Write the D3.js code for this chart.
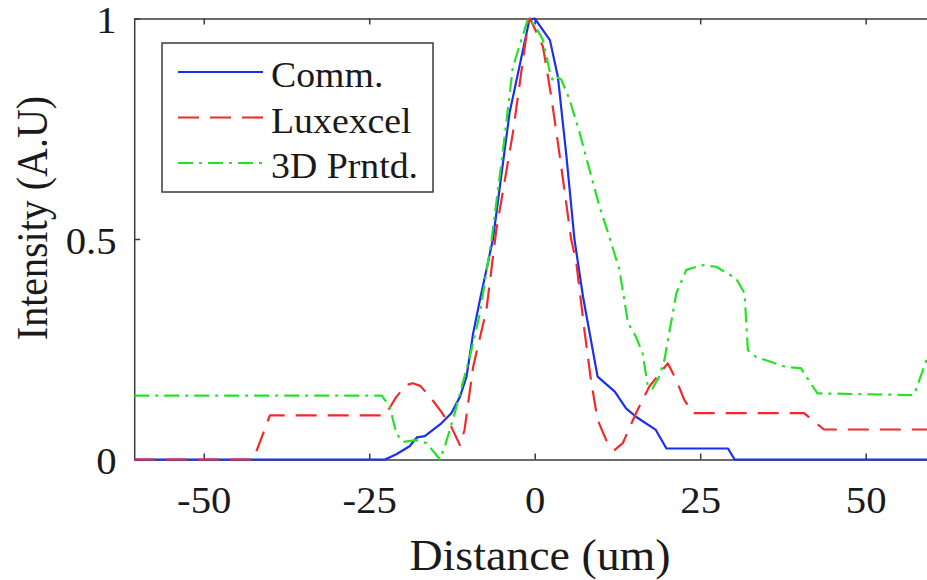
<!DOCTYPE html>
<html>
<head>
<meta charset="utf-8">
<script src="https://cdn.jsdelivr.net/npm/d3@7"></script>
<style>
  html, body { margin: 0; padding: 0; background: #fff; overflow: hidden; }
  svg { display: block; }
</style>
</head>
<body>
<svg id="chart" width="927" height="580"></svg>
<script>
// Intensity profiles across the focal spot for three lens types
const seriesNames = ["Comm.", "Luxexcel", "3D Prntd."];

const commDist = [-60.5, -22.6, -20.9, -18.9, -17.8, -16.6, -14.1, -12.6, -11.3, -10.3, -9.3, -8.3,
  -6.3, -3.8, -0.8, 0, 2.3, 3.5, 4.8, 6.0, 7.3, 9.5, 12.1, 13.8, 15.3, 18.3, 19.9, 20.9, 29.2, 30.2, 60.5];
const commInt = [0, 0, 0.012, 0.03, 0.05, 0.053, 0.082, 0.105, 0.142, 0.188, 0.286, 0.36,
  0.5, 0.786, 0.997, 1.0, 0.951, 0.868, 0.687, 0.5, 0.369, 0.188, 0.154, 0.116, 0.097, 0.067, 0.025, 0.025, 0.025, 0, 0];

const luxDist = [-60.5, -42.5, -40, -22.6, -20.9, -19.4, -18.4, -17.3, -15.8, -14.1, -12.6, -11.3,
  -10.6, -9.3, -7.3, -5.8, -3.3, -1.0, -0.7, 1.25, 2.5, 3.8, 5.5, 6.3, 7.5, 8.5, 9.5, 10.8, 12.1,
  13.3, 15.3, 17.3, 19.3, 20.1, 21.4, 22.6, 23.9, 40.7, 43.7, 60.5];
const luxInt = [0, 0, 0.10, 0.10, 0.142, 0.169, 0.173, 0.167, 0.142, 0.108, 0.074, 0.033,
  0.067, 0.21, 0.339, 0.52, 0.74, 0.989, 1.0, 0.936, 0.823, 0.687, 0.50, 0.445, 0.294, 0.18, 0.09, 0.044, 0.022,
  0.037, 0.105, 0.165, 0.203, 0.218, 0.18, 0.135, 0.105, 0.105, 0.068, 0.068];

const prnDist = [-60.5, -23.1, -21.9, -20.9, -19.9, -17.9, -16.3, -15.3, -14.3, -13.6, -12.3, -11.1,
  -9.8, -8.3, -6.5, -4.8, -3.3, -1.0, 0, 1.25, 2.3, 2.8, 3.5, 4.0, 5.3, 6.8, 8.3, 9.8, 11.1, 12.8,
  14.1, 15.3, 16.3, 17.1, 17.8, 18.8, 19.6, 20.4, 21.4, 22.9, 25.4, 27.4, 30.4, 31.7, 32.2, 33.4,
  37.9, 40.2, 42.7, 57.3, 59.1, 60.5];
const prnInt = [0.145, 0.145, 0.12, 0.059, 0.04, 0.044, 0.037, 0.018, 0, 0.029, 0.093, 0.161,
  0.233, 0.33, 0.50, 0.70, 0.89, 1.0, 0.985, 0.951, 0.878, 0.857, 0.866, 0.862, 0.815, 0.74, 0.656, 0.573, 0.513, 0.43,
  0.309, 0.278, 0.241, 0.165, 0.161, 0.188, 0.226, 0.294, 0.377, 0.43, 0.441, 0.437, 0.411, 0.377, 0.248, 0.233,
  0.21, 0.207, 0.15, 0.146, 0.222, 0.28];

const xTicks = [-50, -25, 0, 25, 50];
const yTicks = [0, 0.5, 1];
const yTickLabels = ["0", "0.5", "1"];

const svg = d3.select("#chart");
const plotLeft = 134.2, plotRight = 935.2, plotTop = 18.5, plotBottom = 459.5;
const axisColor = "#3a3a3a";
const textColor = "#1a1a1a";
const serif = '"Liberation Serif"';
const stretch = 1.1;

const x = d3.scaleLinear().domain([-60.5, 60.5]).range([plotLeft, plotRight]);
const y = d3.scaleLinear().domain([0, 1]).range([plotBottom, plotTop]);

function styleAxis(g) {
  g.attr("font-family", serif);
  g.select(".domain").attr("stroke", axisColor).attr("stroke-width", 1.5);
  g.selectAll(".tick line").attr("stroke", axisColor).attr("stroke-width", 1.5);
}

// bottom axis with labels
const gx = svg.append("g").attr("transform", `translate(0,${plotBottom})`)
  .call(d3.axisBottom(x).tickValues(xTicks).tickFormat(d => String(d))
    .tickSizeInner(-6).tickSizeOuter(0).tickPadding(27));
styleAxis(gx);
gx.selectAll(".tick text")
  .attr("font-family", serif).attr("font-size", 37).attr("fill", textColor)
  .attr("transform", `scale(${stretch},1)`);

// top axis, ticks only
const gt = svg.append("g").attr("transform", `translate(0,${plotTop})`)
  .call(d3.axisTop(x).tickValues(xTicks).tickFormat("").tickSizeInner(-6).tickSizeOuter(0));
styleAxis(gt);

// left axis with labels
const gy = svg.append("g").attr("transform", `translate(${plotLeft},0)`)
  .call(d3.axisLeft(y).tickValues(yTicks).tickFormat((d, i) => yTickLabels[i])
    .tickSizeInner(-6).tickSizeOuter(0).tickPadding(16));
styleAxis(gy);
gy.selectAll(".tick text")
  .attr("font-family", serif).attr("font-size", 37).attr("fill", textColor)
  .attr("dy", "0.38em")
  .attr("transform", `scale(${stretch},1)`);

// right axis, ticks only
const gr = svg.append("g").attr("transform", `translate(${plotRight},0)`)
  .call(d3.axisRight(y).tickValues(yTicks).tickFormat("").tickSizeInner(-6).tickSizeOuter(0));
styleAxis(gr);

// axis titles
svg.append("text")
  .attr("transform", `translate(540,570) scale(1.02,1)`)
  .attr("text-anchor", "middle").attr("font-family", serif)
  .attr("font-size", 45).attr("fill", textColor)
  .text("Distance (um)");

svg.append("text")
  .attr("transform", `translate(47,218) scale(${stretch},1) rotate(-90)`)
  .attr("text-anchor", "middle").attr("font-family", serif)
  .attr("font-size", 40).attr("fill", textColor)
  .text("Intensity (A.U)");

// plot clipping
svg.append("clipPath").attr("id", "plotClip")
  .append("rect").attr("x", plotLeft).attr("y", plotTop - 2)
  .attr("width", plotRight - plotLeft).attr("height", plotBottom - plotTop + 4);

const line = d3.line().x(d => x(d[0])).y(d => y(d[1]));
const zipPts = (xs, ys) => xs.map((v, i) => [v, ys[i]]);

const series = [
  { name: seriesNames[0], pts: zipPts(commDist, commInt), color: "#1b2ff0", dash: null },
  { name: seriesNames[1], pts: zipPts(luxDist, luxInt), color: "#f42a2a", dash: "21,11" },
  { name: seriesNames[2], pts: zipPts(prnDist, prnInt), color: "#27e027", dash: "15,6,3,6" }
];

const plot = svg.append("g").attr("clip-path", "url(#plotClip)");
plot.selectAll("path.series").data(series).enter().append("path")
  .attr("class", "series")
  .attr("d", d => line(d.pts))
  .attr("fill", "none")
  .attr("stroke", d => d.color)
  .attr("stroke-width", 2.2)
  .attr("stroke-linejoin", "round")
  .attr("stroke-dasharray", d => d.dash);

// legend
const lg = svg.append("g");
lg.append("rect").attr("x", 162).attr("y", 43).attr("width", 271).attr("height", 149)
  .attr("fill", "#fff").attr("stroke", axisColor).attr("stroke-width", 1.5);
const rows = lg.selectAll("g.row").data(series).enter().append("g")
  .attr("class", "row")
  .attr("transform", (d, i) => `translate(0,${72 + i * 45.5})`);
rows.append("line").attr("x1", 178).attr("x2", 263).attr("y1", 0).attr("y2", 0)
  .attr("stroke", d => d.color).attr("stroke-width", 2.2)
  .attr("stroke-dasharray", d => d.dash);
rows.append("text")
  .attr("transform", "translate(271,15) scale(1.05,1)")
  .attr("font-family", serif)
  .attr("font-size", 36).attr("fill", textColor)
  .text(d => d.name);
</script>
</body>
</html>
